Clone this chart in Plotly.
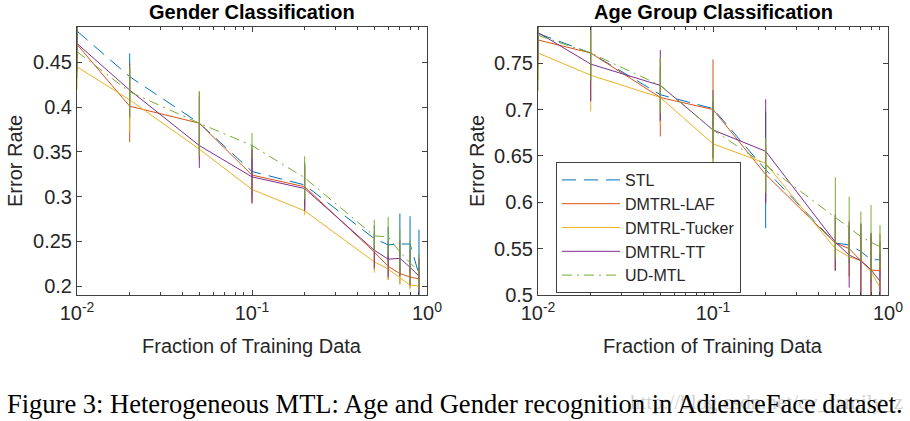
import plotly.graph_objects as go

# ---------------- data ----------------
fractions = [0.01, 0.02, 0.05, 0.1, 0.2, 0.5, 0.6, 0.7, 0.8, 0.9]
methods = ["STL", "DMTRL-LAF", "DMTRL-Tucker", "DMTRL-TT", "UD-MTL"]

gender_stl = [0.485, 0.434, 0.382, 0.328, 0.313, 0.253, 0.246, 0.247, 0.247, 0.213]
gender_laf = [0.470, 0.401, 0.382, 0.324, 0.311, 0.238, 0.222, 0.214, 0.210, 0.208]
gender_tucker = [0.445, 0.408, 0.353, 0.308, 0.284, 0.227, 0.219, 0.209, 0.201, 0.200]
gender_tt = [0.471, 0.419, 0.357, 0.322, 0.309, 0.240, 0.230, 0.231, 0.221, 0.211]
gender_ud = [0.462, 0.417, 0.382, 0.357, 0.321, 0.256, 0.255, 0.238, 0.226, 0.216]

gender_stl_err = [0.030, 0.026, 0.030, 0.030, 0.025, 0.015, 0.020, 0.034, 0.031, 0.050]
gender_laf_err = [0.030, 0.040, 0.035, 0.030, 0.025, 0.020, 0.015, 0.012, 0.012, 0.012]
gender_tucker_err = [0.025, 0.035, 0.012, 0.015, 0.005, 0.012, 0.012, 0.007, 0.005, 0.005]
gender_tt_err = [0.030, 0.030, 0.025, 0.030, 0.025, 0.020, 0.020, 0.020, 0.020, 0.020]
gender_ud_err = [0.030, 0.030, 0.036, 0.014, 0.024, 0.018, 0.022, 0.025, 0.025, 0.020]

age_stl = [0.782, 0.761, 0.716, 0.701, 0.635, 0.556, 0.554, 0.547, 0.538, 0.538]
age_laf = [0.775, 0.761, 0.713, 0.700, 0.630, 0.556, 0.550, 0.537, 0.527, 0.526]
age_tucker = [0.761, 0.737, 0.713, 0.663, 0.642, 0.550, 0.541, 0.537, 0.525, 0.508]
age_tt = [0.783, 0.749, 0.726, 0.678, 0.655, 0.557, 0.543, 0.537, 0.527, 0.515]
age_ud = [0.780, 0.761, 0.726, 0.678, 0.640, 0.583, 0.572, 0.563, 0.557, 0.552]

age_stl_err = [0.030, 0.030, 0.030, 0.020, 0.063, 0.030, 0.020, 0.020, 0.025, 0.020]
age_laf_err = [0.030, 0.052, 0.042, 0.054, 0.030, 0.030, 0.030, 0.040, 0.040, 0.040]
age_tucker_err = [0.030, 0.039, 0.030, 0.020, 0.020, 0.023, 0.020, 0.030, 0.030, 0.030]
age_tt_err = [0.030, 0.040, 0.038, 0.030, 0.056, 0.030, 0.035, 0.040, 0.040, 0.030]
age_ud_err = [0.060, 0.030, 0.030, 0.036, 0.030, 0.044, 0.034, 0.027, 0.040, 0.0235]

gender_ticks = [0.2, 0.25, 0.3, 0.35, 0.4, 0.45]
gender_ticktext = ["0.2", "0.25", "0.3", "0.35", "0.4", "0.45"]
age_ticks = [0.5, 0.55, 0.6, 0.65, 0.7, 0.75]
age_ticktext = ["0.5", "0.55", "0.6", "0.65", "0.7", "0.75"]
x_ticks = [0.01, 0.1, 1]
x_ticktext = ["10<sup>-2</sup>", "10<sup>-1</sup>", "10<sup>0</sup>"]
x_minor = [m * d for d in (0.01, 0.1) for m in range(2, 10)]

titles = ["Gender Classification", "Age Group Classification"]
x_title = "Fraction of Training Data"
y_title = "Error Rate"
caption = "Figure 3: Heterogeneous MTL: Age and Gender recognition in AdienceFace dataset."
watermark = "http://blog.csdn.net/cv_family_z"

# ---------------- styles ----------------
colors = ["#0072BD", "#D95319", "#EDB120", "#7E2F8E", "#77AC30"]
dashes = ["14px,8px", "solid", "solid", "solid", "10px,5px,2px,5px"]

W, H = 910, 421
FONT = "Liberation Sans, Arial, Helvetica, sans-serif"
AXC = "#404040"


def px(x):
    return x / W


def py(y):
    return 1 - y / H


fig = go.Figure()

panels = [
    ("x", "y", [gender_stl, gender_laf, gender_tucker, gender_tt, gender_ud],
     [gender_stl_err, gender_laf_err, gender_tucker_err, gender_tt_err, gender_ud_err], False),
    ("x2", "y2", [age_stl, age_laf, age_tucker, age_tt, age_ud],
     [age_stl_err, age_laf_err, age_tucker_err, age_tt_err, age_ud_err], True),
]

for xa, ya, series, errs, show in panels:
    for name, vals, err, c, d in zip(methods, series, errs, colors, dashes):
        fig.add_trace(go.Scatter(
            x=fractions, y=vals, name=name, mode="lines",
            xaxis=xa, yaxis=ya, showlegend=show,
            line=dict(color=c, width=1, dash=d),
            error_y=dict(type="data", array=err, visible=True,
                         color=c, thickness=1, width=0),
        ))

common_x = dict(
    type="log", range=[-2, 0], tickvals=x_ticks, ticktext=x_ticktext,
    ticks="inside", ticklen=5, tickcolor=AXC, showline=True, linecolor=AXC,
    linewidth=1, mirror="ticks", showgrid=False, zeroline=False, automargin=False,
    tickfont=dict(family=FONT, size=20, color="#262626"),
    minor=dict(tickvals=x_minor, ticks="inside", ticklen=3, tickcolor=AXC, showgrid=False),
)
common_y = dict(
    ticks="inside", ticklen=5, tickcolor=AXC, showline=True, linecolor=AXC,
    linewidth=1, mirror="ticks", showgrid=False, zeroline=False, automargin=False,
    tickfont=dict(family=FONT, size=20, color="#262626"),
)

ydom = [py(295), py(27)]
fig.update_layout(
    width=W, height=H,
    margin=dict(l=0, r=0, t=0, b=0, autoexpand=False),
    paper_bgcolor="white", plot_bgcolor="white",
    font=dict(family=FONT, color="#262626"),
    xaxis=dict(domain=[px(77), px(427)], anchor="y", **common_x),
    yaxis=dict(domain=ydom, anchor="x", range=[0.19, 0.4895],
               tickvals=gender_ticks, ticktext=gender_ticktext, **common_y),
    xaxis2=dict(domain=[px(538), px(888)], anchor="y2", **common_x),
    yaxis2=dict(domain=ydom, anchor="x2", range=[0.5, 0.789],
                tickvals=age_ticks, ticktext=age_ticktext, **common_y),
    legend=dict(
        x=px(556), y=py(162), xanchor="left", yanchor="top",
        bgcolor="white", bordercolor=AXC, borderwidth=1,
        font=dict(family=FONT, size=16, color="#262626"),
        tracegroupgap=0, itemwidth=58,
    ),
)

ann = []
for t, cx in zip(titles, [252, 713]):
    ann.append(dict(text="<b>" + t + "</b>", x=px(cx), y=py(12), xref="paper", yref="paper",
                    showarrow=False, font=dict(family=FONT, size=20, color="black"),
                    xanchor="center", yanchor="middle"))
for cx in [252, 713]:
    ann.append(dict(text=x_title, x=px(cx), y=py(346), xref="paper", yref="paper",
                    showarrow=False, font=dict(family=FONT, size=20, color="#262626"),
                    xanchor="center", yanchor="middle"))
for cx in [15, 477]:
    ann.append(dict(text=y_title, x=px(cx), y=py(161), xref="paper", yref="paper",
                    showarrow=False, textangle=-90,
                    font=dict(family=FONT, size=20, color="#262626"),
                    xanchor="center", yanchor="middle"))
ann.append(dict(text=watermark, x=px(905), y=py(402), xref="paper", yref="paper",
                showarrow=False, font=dict(family="Liberation Serif, serif", size=21,
                                           color="rgba(170,170,170,0.55)"),
                xanchor="right", yanchor="middle"))
ann.append(dict(text=caption, x=px(455), y=py(404), xref="paper", yref="paper",
                showarrow=False, font=dict(family="Liberation Serif, Times New Roman, serif",
                                           size=26.5, color="black"),
                xanchor="center", yanchor="middle"))
fig.update_layout(annotations=ann)

fig.write_html("out.html", config={"displayModeBar": False},
               post_script="document.body.style.margin='0px';")
